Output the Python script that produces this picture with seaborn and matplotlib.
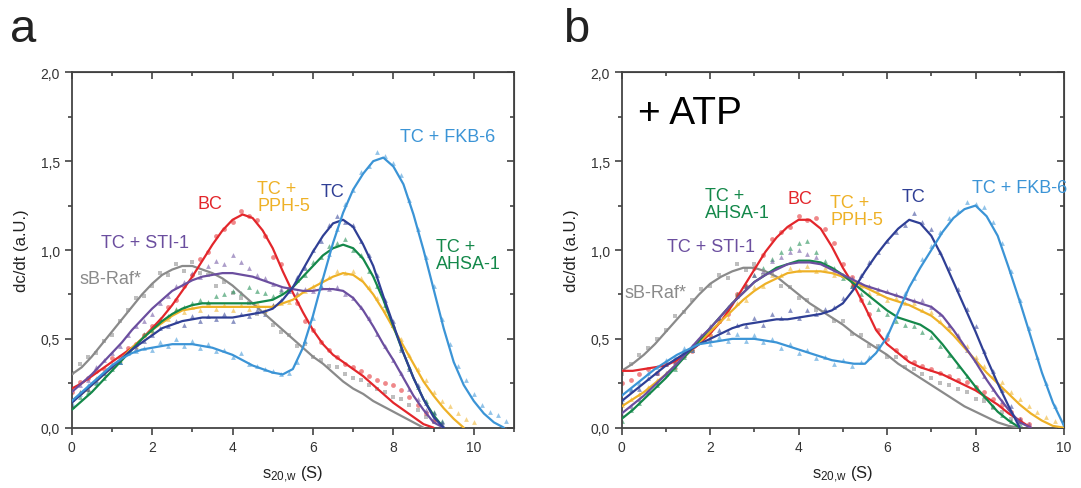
import numpy as np
import seaborn as sns
import matplotlib
matplotlib.use("Agg")
from matplotlib import pyplot as plt
from matplotlib.ticker import MultipleLocator, FuncFormatter

# ---- panel a: fitted curves, sampled every 0.25 S ----
curve_step = 0.25
a_raf_fit = [.30, .34, .40, .47, .54, .61, .68, .75, .81, .86, .89, .91, .91, .89, .87, .84, .80, .75, .70, .65,
             .60, .55, .50, .45, .40, .36, .31, .26, .22, .19, .15, .12, .09, .06, .03, 0.0]
a_bc_fit = [.22, .25, .29, .33, .37, .41, .45, .50, .56, .62, .69, .77, .85, .94, 1.03, 1.11, 1.17, 1.20, 1.18, 1.11,
            1.01, .88, .76, .65, .55, .47, .41, .37, .33, .29, .24, .19, .14, .10, .06, .02, 0.0]
a_tc_fit = [.14, .19, .24, .29, .34, .39, .44, .48, .52, .56, .58, .60, .61, .62, .62, .62, .62, .63, .64, .65,
            .67, .72, .79, .89, .99, 1.08, 1.15, 1.17, 1.13, 1.03, .91, .74, .58, .42, .28, .16, .06, 0.0]
a_ahsa_fit = [.10, .15, .20, .26, .32, .38, .44, .50, .55, .60, .64, .67, .69, .70, .70, .70, .70, .70, .70, .71,
              .72, .75, .79, .85, .91, .97, 1.01, 1.03, 1.01, .95, .85, .72, .57, .42, .28, .16, .07, 0.0]
a_pph_fit = [.15, .19, .24, .29, .34, .39, .45, .50, .55, .59, .63, .66, .67, .68, .68, .68, .68, .68, .68, .68,
             .68, .70, .72, .76, .79, .82, .85, .87, .86, .82, .75, .66, .56, .46, .36, .26, .18, .11, .05, 0.0]
a_sti_fit = [.20, .25, .30, .36, .42, .48, .55, .61, .67, .72, .77, .80, .83, .85, .86, .87, .87, .86, .85, .83,
             .81, .79, .78, .77, .77, .78, .78, .77, .73, .66, .57, .47, .38, .28, .18, .10, .03, 0.0]
a_fkb_fit = [.15, .20, .25, .30, .35, .39, .42, .44, .45, .46, .47, .47, .47, .46, .45, .43, .41, .38, .35, .33,
             .31, .30, .33, .45, .63, .84, 1.04, 1.21, 1.34, 1.43, 1.50, 1.52, 1.47, 1.37, 1.20, 1.00, .78, .56, .37,
             .24, .15, .08, .03, 0.0]

# ---- panel a: measured points, sampled every 0.2 S ----
pts_step = 0.2
a_raf_pts = [.31, .36, .40, .42, .49, .52, .60, .66, .73, .74, .80, .87, .86, .92, .88, .93, .87, .86, .80, .82,
             .76, .73, .70, .64, .65, .58, .54, .52, .46, .47, .40, .38, .35, .34, .30, .28, .27, .24, .22, .20,
             .17, .16, .13, .10, .06, .03]
a_bc_pts = [.20, .26, .28, .32, .33, .39, .40, .45, .47, .52, .57, .60, .68, .72, .80, .86, .95, .99, 1.08, 1.12,
            1.16, 1.22, 1.19, 1.17, 1.08, .96, .92, .78, .70, .60, .55, .48, .44, .40, .36, .34, .32, .29, .27, .25,
            .24, .21, .17, .13, .08, .04]
a_tc_pts = [.12, .20, .22, .27, .31, .35, .37, .43, .45, .49, .52, .56, .57, .60, .58, .63, .60, .63, .61, .64,
            .60, .64, .63, .66, .64, .69, .72, .77, .85, .90, 1.00, 1.05, 1.14, 1.19, 1.16, 1.14, 1.05, .97, .86, .72,
            .60, .44, .33, .24, .14, .08, .03]
a_ahsa_pts = [.12, .17, .20, .25, .28, .33, .37, .43, .47, .53, .55, .61, .63, .67, .68, .70, .72, .71, .74, .75,
              .77, .76, .79, .77, .76, .74, .77, .78, .83, .86, .93, .96, 1.02, 1.04, 1.06, 1.00, .97, .88, .80, .69,
              .58, .45, .34, .23, .15, .09, .04]
a_pph_pts = [.16, .20, .22, .28, .31, .35, .38, .44, .46, .52, .54, .60, .61, .66, .65, .68, .66, .70, .67, .69,
             .66, .69, .67, .70, .66, .69, .70, .71, .75, .77, .80, .83, .85, .88, .87, .88, .84, .79, .73, .66,
             .58, .50, .41, .33, .27, .20, .15, .12, .08, .05, .03]
a_sti_pts = [.16, .24, .27, .34, .38, .42, .46, .52, .57, .60, .64, .70, .74, .80, .82, .87, .85, .91, .94, .92,
             .97, .93, .90, .86, .84, .81, .78, .79, .76, .78, .77, .80, .78, .79, .75, .73, .68, .62, .53, .46,
             .38, .31, .22, .16, .10, .06, .02]
a_fkb_pts = [.14, .19, .24, .26, .31, .36, .37, .42, .43, .45, .44, .48, .46, .50, .46, .49, .45, .47, .43, .44,
             .40, .42, .36, .35, .33, .32, .30, .31, .37, .49, .62, .80, .98, 1.12, 1.26, 1.34, 1.44, 1.47, 1.55, 1.53,
             1.49, 1.42, 1.28, 1.12, .96, .80, .61, .47, .35, .27, .19, .13, .09, .07, .04]

# ---- panel b (+ ATP): fitted curves ----
b_raf_fit = [.32, .36, .41, .47, .54, .61, .68, .75, .81, .85, .88, .90, .90, .88, .85, .80, .75, .70, .66, .62,
             .58, .53, .49, .45, .41, .36, .32, .28, .24, .20, .16, .12, .09, .06, .03, .01, 0.0]
b_bc_fit = [.32, .32, .33, .34, .35, .38, .42, .47, .53, .60, .69, .79, .89, .99, 1.07, 1.13, 1.17, 1.17, 1.12, 1.02,
            .90, .80, .68, .55, .47, .42, .37, .34, .32, .30, .27, .24, .21, .17, .13, .08, .04, 0.0]
b_tc_fit = [.15, .20, .25, .30, .35, .39, .43, .47, .50, .53, .56, .58, .59, .60, .61, .61, .62, .63, .64, .66,
            .70, .78, .88, .97, 1.05, 1.12, 1.17, 1.15, 1.08, .96, .82, .68, .54, .39, .25, .12, 0.0]
b_ahsa_fit = [.05, .10, .16, .22, .28, .35, .42, .49, .56, .63, .70, .76, .82, .86, .90, .92, .94, .94, .93, .90,
              .86, .81, .76, .71, .66, .62, .60, .58, .54, .47, .39, .31, .23, .16, .09, .04, 0.0]
b_pph_fit = [.12, .16, .20, .25, .30, .36, .42, .48, .54, .60, .66, .72, .77, .81, .84, .87, .88, .88, .88, .87,
             .85, .82, .79, .76, .73, .71, .69, .66, .63, .58, .52, .45, .38, .31, .25, .19, .13, .08, .04, .01, 0.0]
b_sti_fit = [.08, .13, .18, .24, .30, .36, .43, .50, .56, .63, .70, .76, .82, .86, .89, .92, .93, .93, .92, .89,
             .86, .83, .80, .78, .76, .74, .72, .70, .68, .63, .55, .46, .37, .27, .18, .10, .03, 0.0]
b_fkb_fit = [.18, .23, .28, .33, .37, .41, .44, .47, .48, .49, .50, .50, .50, .49, .48, .46, .44, .42, .40, .38,
             .37, .36, .36, .42, .51, .65, .79, .90, 1.00, 1.10, 1.18, 1.23, 1.25, 1.19, 1.08, .90, .71, .51, .31,
             .14, .01]

# ---- panel b (+ ATP): measured points ----
b_raf_pts = [.30, .36, .41, .45, .50, .55, .63, .65, .72, .78, .80, .86, .84, .92, .89, .92, .86, .87, .80, .79,
             .73, .72, .66, .65, .60, .60, .53, .52, .46, .46, .40, .40, .34, .33, .30, .28, .25, .24, .22, .20,
             .16, .15, .11, .09, .05, .03]
b_bc_pts = [.25, .27, .30, .33, .31, .36, .37, .42, .43, .50, .52, .60, .64, .75, .80, .90, .97, 1.06, 1.10, 1.13,
            1.19, 1.17, 1.18, 1.12, 1.04, .92, .85, .72, .64, .55, .50, .44, .40, .37, .35, .33, .31, .29, .27, .26,
            .23, .20, .16, .13, .09, .05, .02]
b_tc_pts = [.14, .21, .22, .28, .31, .36, .37, .43, .44, .49, .50, .55, .54, .58, .57, .62, .58, .64, .62, .66,
            .62, .66, .64, .67, .68, .73, .80, .86, .93, .99, 1.05, 1.10, 1.14, 1.21, 1.16, 1.12, .99, .90, .78, .67,
            .57, .43, .32, .21, .12, .05]
b_ahsa_pts = [.04, .10, .14, .20, .24, .30, .33, .40, .45, .51, .55, .62, .67, .75, .80, .86, .90, .95, .99, 1.01,
              1.04, 1.05, .99, .94, .90, .84, .80, .75, .71, .67, .64, .60, .58, .57, .54, .51, .46, .41, .35, .29,
              .23, .18, .12, .07, .04, .02]
b_pph_pts = [.13, .16, .19, .23, .27, .31, .34, .41, .44, .50, .53, .60, .62, .70, .72, .79, .80, .86, .86, .90,
             .89, .91, .88, .90, .86, .86, .81, .80, .76, .76, .72, .73, .70, .70, .66, .65, .60, .56, .51, .46,
             .40, .35, .29, .26, .20, .16, .12, .09, .06, .04, .02]
b_sti_pts = [.07, .12, .16, .22, .26, .31, .35, .41, .46, .52, .57, .62, .68, .74, .80, .86, .88, .94, .96, .99,
             1.00, .98, .96, .92, .89, .86, .84, .81, .80, .78, .77, .75, .74, .72, .72, .68, .64, .58, .52, .44,
             .38, .29, .22, .15, .09, .04, .02]
b_fkb_pts = [.16, .22, .25, .31, .34, .38, .40, .45, .44, .49, .47, .51, .49, .53, .49, .52, .48, .50, .45, .47,
             .42, .44, .39, .40, .36, .38, .35, .37, .40, .46, .53, .63, .76, .84, .95, 1.02, 1.10, 1.18, 1.22, 1.27,
             1.26, 1.24, 1.16, 1.04, .88, .72, .56, .40, .25, .12, .03]

# series colours
c_raf, c_bc, c_tc = "#8a8a8a", "#e3262b", "#2f3f95"
c_ahsa, c_pph, c_sti, c_fkb = "#14884a", "#eeb127", "#6b4e9f", "#3b94d6"

sns.set_style("ticks")
plt.rcParams["font.family"] = ["Liberation Sans", "DejaVu Sans"]
plt.rcParams["mathtext.fontset"] = "custom"
plt.rcParams["mathtext.rm"] = "Liberation Sans"
plt.rcParams["mathtext.it"] = "Liberation Sans"

fig = plt.figure(figsize=(10.81, 4.89), dpi=100)
ax_a = fig.add_axes([0.0663, 0.1233, 0.4092, 0.7268])
ax_b = fig.add_axes([0.5751, 0.1233, 0.4092, 0.7268])


def draw_series(ax, fit, pts, color, marker):
    x_pts = np.arange(len(pts)) * pts_step
    x_fit = np.arange(len(fit)) * curve_step
    sns.scatterplot(x=x_pts, y=pts, ax=ax, color=color, marker=marker, s=12,
                    alpha=0.55, linewidth=0, zorder=2)
    sns.lineplot(x=x_fit, y=fit, ax=ax, color=color, lw=1.6, zorder=3)


panel_a = [
    (a_raf_fit, a_raf_pts, c_raf, "s"),
    (a_bc_fit, a_bc_pts, c_bc, "o"),
    (a_pph_fit, a_pph_pts, c_pph, "^"),
    (a_ahsa_fit, a_ahsa_pts, c_ahsa, "^"),
    (a_sti_fit, a_sti_pts, c_sti, "^"),
    (a_tc_fit, a_tc_pts, c_tc, "^"),
    (a_fkb_fit, a_fkb_pts, c_fkb, "^"),
]
panel_b = [
    (b_raf_fit, b_raf_pts, c_raf, "s"),
    (b_bc_fit, b_bc_pts, c_bc, "o"),
    (b_pph_fit, b_pph_pts, c_pph, "^"),
    (b_ahsa_fit, b_ahsa_pts, c_ahsa, "^"),
    (b_sti_fit, b_sti_pts, c_sti, "^"),
    (b_tc_fit, b_tc_pts, c_tc, "^"),
    (b_fkb_fit, b_fkb_pts, c_fkb, "^"),
]
for fit, pts, color, marker in panel_a:
    draw_series(ax_a, fit, pts, color, marker)
for fit, pts, color, marker in panel_b:
    draw_series(ax_b, fit, pts, color, marker)

comma = FuncFormatter(lambda v, p: f"{v:.1f}".replace(".", ","))
for ax, xmax in ((ax_a, 11), (ax_b, 10)):
    ax.set_xlim(0, xmax)
    ax.set_ylim(0, 2.0)
    ax.xaxis.set_major_locator(MultipleLocator(2))
    ax.xaxis.set_minor_locator(MultipleLocator(1))
    ax.yaxis.set_major_locator(MultipleLocator(0.5))
    ax.yaxis.set_minor_locator(MultipleLocator(0.25))
    ax.yaxis.set_major_formatter(comma)
    ax.tick_params(which="both", direction="out", colors="#333333", labelsize=10, width=1.1)
    ax.tick_params(which="major", length=5)
    ax.tick_params(which="minor", length=3)
    for sp in ax.spines.values():
        sp.set_visible(True)
        sp.set_color("#444444")
        sp.set_linewidth(1.3)
    top = ax.secondary_xaxis("top")
    top.xaxis.set_major_locator(MultipleLocator(2))
    top.xaxis.set_minor_locator(MultipleLocator(1))
    top.tick_params(which="both", direction="in", labeltop=False, colors="#333333", width=1.1)
    top.tick_params(which="major", length=5)
    top.tick_params(which="minor", length=3)
    right = ax.secondary_yaxis("right")
    right.yaxis.set_major_locator(MultipleLocator(0.5))
    right.yaxis.set_minor_locator(MultipleLocator(0.25))
    right.tick_params(which="both", direction="in", labelright=False, colors="#333333", width=1.1)
    right.tick_params(which="major", length=5)
    right.tick_params(which="minor", length=3)
    ax.set_xlabel(r"s$_{\mathregular{20{,}w}}$ (S)", fontsize=12, color="#222222", labelpad=7)
    ax.set_ylabel("dc/dt (a.U.)", fontsize=12, color="#222222", labelpad=8)

lab = dict(fontsize=13)
ax_a.text(3.45, 1.26, "BC", color=c_bc, ha="center", va="center", **lab)
ax_a.text(4.62, 1.30, "TC +\nPPH-5", color=c_pph, ha="left", va="center", linespacing=1.0, **lab)
ax_a.text(6.48, 1.33, "TC", color=c_tc, ha="center", va="center", **lab)
ax_a.text(9.35, 1.64, "TC + FKB-6", color=c_fkb, ha="center", va="center", **lab)
ax_a.text(9.05, 0.97, "TC +\nAHSA-1", color=c_ahsa, ha="left", va="center", linespacing=1.0, **lab)
ax_a.text(0.72, 1.04, "TC + STI-1", color=c_sti, ha="left", va="center", **lab)
ax_a.text(0.20, 0.84, "sB-Raf*", color=c_raf, ha="left", va="center", **lab)

ax_b.text(0.38, 1.77, "+ ATP", color="black", ha="left", va="center", fontsize=28)
ax_b.text(1.88, 1.26, "TC +\nAHSA-1", color=c_ahsa, ha="left", va="center", linespacing=1.0, **lab)
ax_b.text(4.03, 1.29, "BC", color=c_bc, ha="center", va="center", **lab)
ax_b.text(4.71, 1.22, "TC +\nPPH-5", color=c_pph, ha="left", va="center", linespacing=1.0, **lab)
ax_b.text(6.60, 1.30, "TC", color=c_tc, ha="center", va="center", **lab)
ax_b.text(9.00, 1.35, "TC + FKB-6", color=c_fkb, ha="center", va="center", **lab)
ax_b.text(1.02, 1.02, "TC + STI-1", color=c_sti, ha="left", va="center", **lab)
ax_b.text(0.07, 0.76, "sB-Raf*", color=c_raf, ha="left", va="center", **lab)

fig.text(0.009, 0.914, "a", fontsize=34, color="#222222", ha="left", va="baseline")
fig.text(0.521, 0.914, "b", fontsize=34, color="#222222", ha="left", va="baseline")

fig.savefig("out.png", dpi=100)
